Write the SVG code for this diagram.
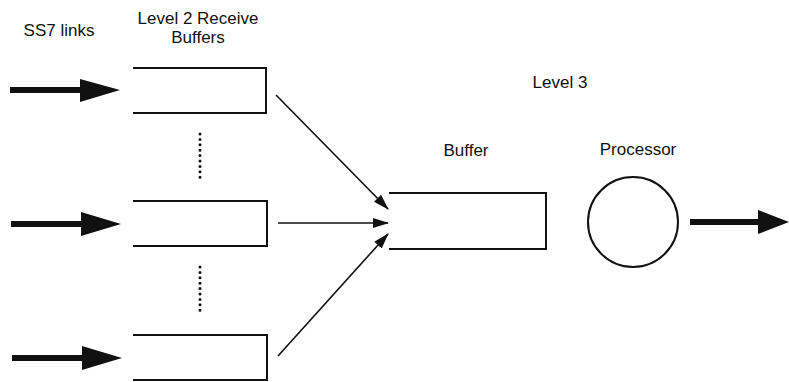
<svg xmlns="http://www.w3.org/2000/svg" width="789" height="382" viewBox="0 0 789 382">
<defs>
<marker id="ah" markerWidth="16" markerHeight="10" refX="15" refY="5" orient="auto" markerUnits="userSpaceOnUse">
<path d="M0,0 L16,5 L0,10 Z" fill="#111"/>
</marker>
<style>
text{font-family:"Liberation Sans",Arial,sans-serif;font-size:17px;fill:#111}
.buf{fill:none;stroke:#111;stroke-width:2}
.thin{stroke:#111;stroke-width:1.6;fill:none}
.fat{stroke:#111;stroke-width:6;fill:none}
.head{fill:#111}
.dots{stroke:#111;stroke-width:3;stroke-linecap:round;stroke-dasharray:0 5.4;fill:none}
</style>
</defs>
<rect width="789" height="382" fill="#fff"/>
<g id="labels">
<text x="59" y="36" text-anchor="middle">SS7 links</text>
<text x="198" y="24" text-anchor="middle">Level 2 Receive</text>
<text x="198" y="43" text-anchor="middle">Buffers</text>
<text x="560" y="88" text-anchor="middle">Level 3</text>
<text x="466" y="156" text-anchor="middle">Buffer</text>
<text x="638" y="155" text-anchor="middle">Processor</text>
</g>
<g id="link1"><path class="fat" d="M10,90 H84"/><path class="head" d="M80,79 L120,90 L80,102 Z"/></g>
<g id="link2"><path class="fat" d="M11,224 H84"/><path class="head" d="M81,212 L121,224 L81,236 Z"/></g>
<g id="link3"><path class="fat" d="M12,358 H84"/><path class="head" d="M82,346 L122,358 L82,370 Z"/></g>
<g id="l2buf1"><path class="buf" d="M133,68 H266 V113 H133"/></g>
<g id="l2buf2"><path class="buf" d="M133,201 H267 V246 H133"/></g>
<g id="l2buf3"><path class="buf" d="M133,335 H267 V380 H133"/></g>
<g id="ellipsis1"><path class="dots" d="M200,134 V178"/></g>
<g id="ellipsis2"><path class="dots" d="M200,267 V311"/></g>
<g id="l3buffer"><path class="buf" d="M389,193 H546 V249 H389"/></g>
<g id="processor"><circle cx="633" cy="222" r="45" fill="none" stroke="#111" stroke-width="2"/></g>
<g id="output"><path class="fat" d="M690,222 H762"/><path class="head" d="M758,210 L789,222 L758,234 Z"/></g>
<g id="connectors">
<path class="thin" d="M276,95 L388,209" marker-end="url(#ah)"/>
<path class="thin" d="M278,223 L388,223" marker-end="url(#ah)"/>
<path class="thin" d="M278,356 L388,234" marker-end="url(#ah)"/>
</g>
</svg>
